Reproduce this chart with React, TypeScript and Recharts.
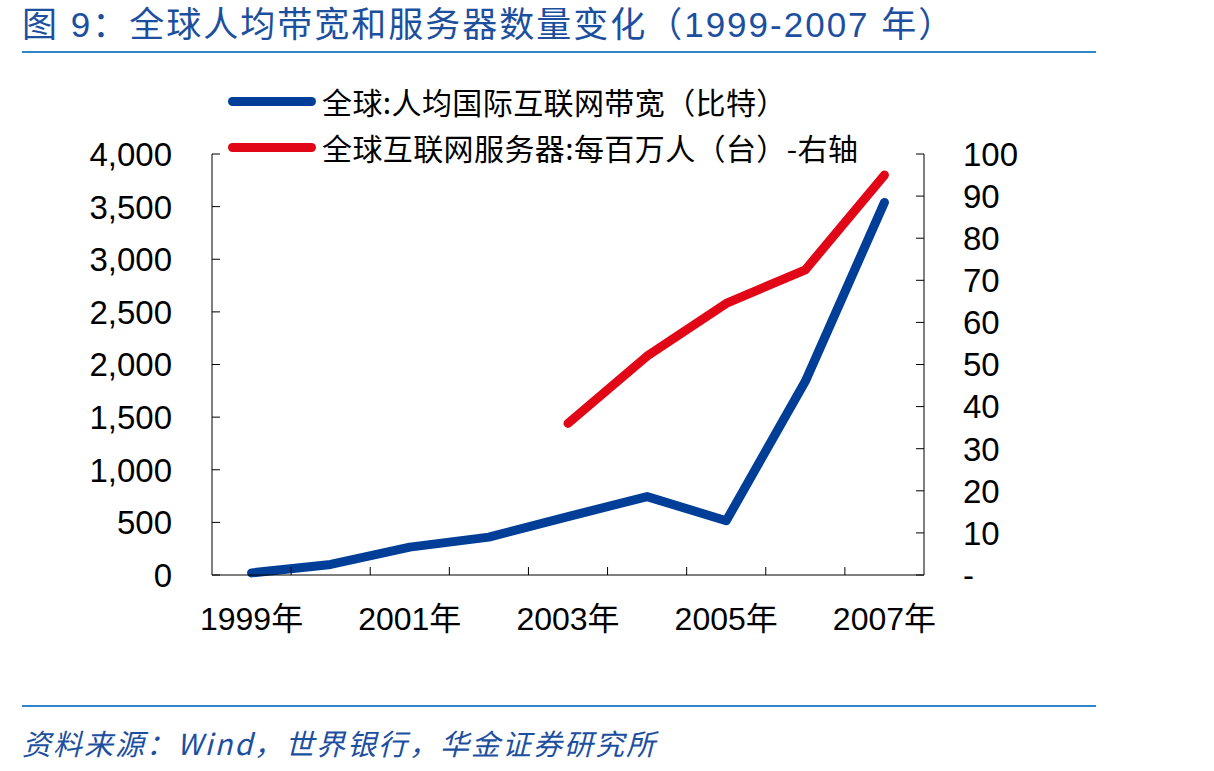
import { LineChart, Line, XAxis, YAxis } from "recharts";

const years = ["1999", "2000", "2001", "2002", "2003", "2004", "2005", "2006", "2007"];
// 比特 per person, left axis
const bandwidthPerCapita = [20, 100, 265, 360, 555, 745, 515, 1840, 3540];
// servers per million people, right axis (no data before 2003)
const serversPerMillion = [null, null, null, null, 36, 52, 64.5, 72.5, 95];

const leftTicks = [0, 500, 1000, 1500, 2000, 2500, 3000, 3500, 4000];
const rightTicks = [0, 10, 20, 30, 40, 50, 60, 70, 80, 90, 100];

const seriesNames = [
  "全球:人均国际互联网带宽（比特）",
  "全球互联网服务器:每百万人（台）-右轴",
];
const titleText = "图 9：全球人均带宽和服务器数量变化（1999-2007 年）";
const sourceText = "资料来源：Wind，世界银行，华金证券研究所";

const data = years.map((year, i) => ({
  year,
  bandwidth: bandwidthPerCapita[i],
  servers: serversPerMillion[i],
}));

const COLORS = {
  bandwidth: "#003e97",
  servers: "#e10717",
  heading: "#1d4f9f",
  rule: "#2f86c8",
};

const PLOT_LEFT = 212;
const PLOT_RIGHT = 924;
const PLOT_TOP = 154;
const PLOT_BOTTOM = 575;
const CHART_W = 1214;
const CHART_H = 680;
const X_AXIS_H = 80;
const BAND = (PLOT_RIGHT - PLOT_LEFT) / years.length;
const TICK_LEN = 8;

const NUM_FONT = "'Liberation Sans', Arial, 'Noto Sans CJK SC', sans-serif";
const CJK_FONT = "'Noto Sans CJK SC', 'Liberation Sans', sans-serif";

function LeftTick(props: any) {
  const { x, y, payload } = props;
  return (
    <g>
      <line x1={PLOT_LEFT} x2={PLOT_LEFT + TICK_LEN} y1={y} y2={y} stroke="#000" />
      <text x={x} y={y} dy="0.36em" textAnchor="end" fontSize={33} fontFamily={NUM_FONT} fill="#000">
        {Number(payload.value).toLocaleString("en-US")}
      </text>
    </g>
  );
}

function RightTick(props: any) {
  const { x, y, payload } = props;
  return (
    <g>
      <line x1={PLOT_RIGHT - TICK_LEN} x2={PLOT_RIGHT} y1={y} y2={y} stroke="#000" />
      <text x={x} y={y} dy="0.36em" textAnchor="start" fontSize={33} fontFamily={NUM_FONT} fill="#000">
        {payload.value === 0 ? "-" : payload.value}
      </text>
    </g>
  );
}

function YearTick(props: any) {
  const { x, payload, index } = props;
  return (
    <g>
      {index > 0 ? (
        <line x1={x - BAND / 2} x2={x - BAND / 2} y1={PLOT_BOTTOM} y2={PLOT_BOTTOM - TICK_LEN} stroke="#000" />
      ) : null}
      {index % 2 === 0 ? (
        <text x={x} y={PLOT_BOTTOM + 55} textAnchor="middle" fontSize={32} fontFamily={NUM_FONT} fill="#000">
          {payload.value + "年"}
        </text>
      ) : null}
    </g>
  );
}

function LegendRow({ color, label, top }: { color: string; label: string; top: number }) {
  return (
    <div style={{ position: "absolute", left: 228, top: top - 16, height: 32, display: "flex", alignItems: "center" }}>
      <div style={{ width: 88, height: 9, borderRadius: 5, background: color }} />
      <span
        style={{
          marginLeft: 6,
          fontFamily: CJK_FONT,
          fontSize: 30,
          letterSpacing: 0.4,
          lineHeight: "32px",
          color: "#000",
          whiteSpace: "nowrap",
        }}
      >
        {label}
      </span>
    </div>
  );
}

export default function App() {
  return (
    <div style={{ position: "absolute", left: 0, top: 0, width: CHART_W, height: 771, background: "#fff" }}>
      <div
        style={{
          position: "absolute",
          left: 22,
          top: 6,
          fontFamily: NUM_FONT,
          fontSize: 35,
          letterSpacing: 2,
          lineHeight: "38px",
          color: COLORS.heading,
          whiteSpace: "nowrap",
        }}
      >
        {titleText}
      </div>
      <div style={{ position: "absolute", left: 22, top: 51, width: 1074, height: 2, background: COLORS.rule }} />

      <LineChart
        width={CHART_W}
        height={CHART_H}
        data={data}
        margin={{ top: PLOT_TOP, right: 0, bottom: CHART_H - PLOT_BOTTOM - X_AXIS_H, left: 0 }}
      >
        <XAxis
          dataKey="year"
          interval={0}
          height={X_AXIS_H}
          padding={{ left: BAND / 2, right: BAND / 2 }}
          tickLine={false}
          tickSize={0}
          tick={<YearTick />}
          axisLine={{ stroke: "#000" }}
        />
        <YAxis
          yAxisId="left"
          width={PLOT_LEFT}
          domain={[0, 4000]}
          ticks={leftTicks}
          interval={0}
          tickLine={false}
          tickSize={0}
          tickMargin={40}
          tick={<LeftTick />}
          axisLine={{ stroke: "#000" }}
        />
        <YAxis
          yAxisId="right"
          orientation="right"
          width={CHART_W - PLOT_RIGHT}
          domain={[0, 100]}
          ticks={rightTicks}
          interval={0}
          tickLine={false}
          tickSize={0}
          tickMargin={39}
          tick={<RightTick />}
          axisLine={{ stroke: "#000" }}
        />
        <Line
          yAxisId="left"
          dataKey="bandwidth"
          name={seriesNames[0]}
          type="linear"
          stroke={COLORS.bandwidth}
          strokeWidth={9}
          strokeLinecap="round"
          strokeLinejoin="round"
          dot={false}
          activeDot={false}
          isAnimationActive={false}
        />
        <Line
          yAxisId="right"
          dataKey="servers"
          name={seriesNames[1]}
          type="linear"
          stroke={COLORS.servers}
          strokeWidth={9}
          strokeLinecap="round"
          strokeLinejoin="round"
          dot={false}
          activeDot={false}
          isAnimationActive={false}
        />
      </LineChart>

      <LegendRow color={COLORS.bandwidth} label={seriesNames[0]} top={101} />
      <LegendRow color={COLORS.servers} label={seriesNames[1]} top={147} />

      <div style={{ position: "absolute", left: 22, top: 705, width: 1074, height: 2, background: COLORS.rule }} />
      <div
        style={{
          position: "absolute",
          left: 22,
          top: 726,
          fontFamily: CJK_FONT,
          fontSize: 29,
          letterSpacing: 2,
          lineHeight: "32px",
          fontStyle: "italic",
          color: COLORS.heading,
          whiteSpace: "nowrap",
        }}
      >
        {sourceText}
      </div>
    </div>
  );
}
